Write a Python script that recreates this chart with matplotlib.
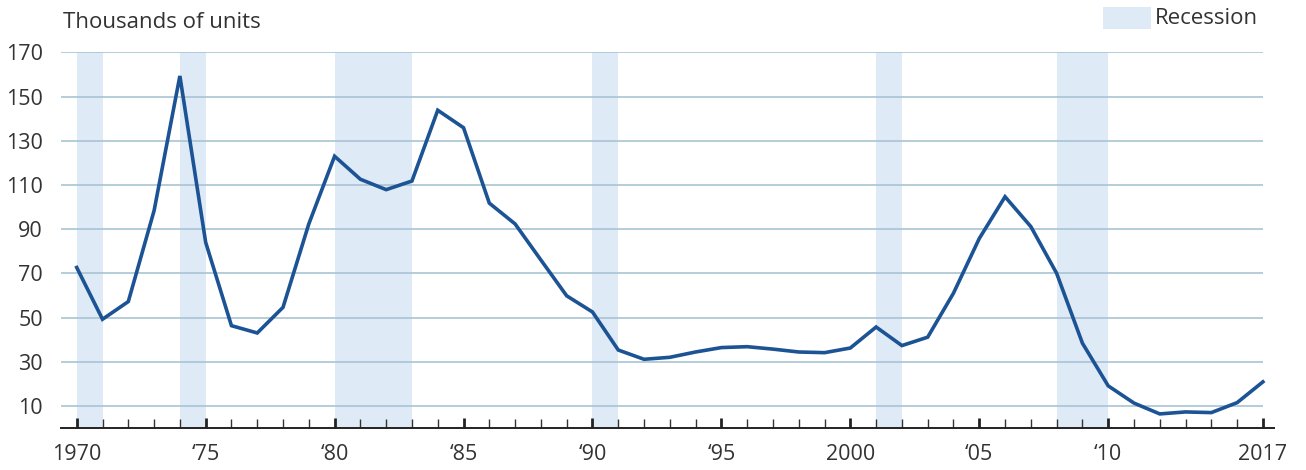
import numpy as np
import matplotlib.pyplot as plt
from matplotlib.patches import Patch

years = list(range(1970, 2017))
units = [72.7, 49.3, 57.3, 98.4, 159.3, 84.1, 46.4, 43.1, 54.7, 92.4,
         123.0, 112.6, 107.9, 111.8, 143.8, 135.9, 101.8, 92.4, 76.1, 59.9,
         52.6, 35.4, 31.2, 32.1, 34.5, 36.5, 36.9, 35.8, 34.5, 34.2,
         36.3, 45.8, 37.4, 41.2, 61.1, 85.8, 104.7, 91.2, 70.1, 38.5,
         19.2, 11.4, 6.5, 7.4, 7.1, 11.6, 21.0]
recessions = [(1970, 1971), (1974, 1975), (1980, 1983), (1990, 1991),
              (2001, 2002), (2008, 2010)]
yticks = [10, 30, 50, 70, 90, 110, 130, 150, 170]
major_years = [1970, 1975, 1980, 1985, 1990, 1995, 2000, 2005, 2010, 2016]
major_labels = ['1970', '\u201875', '\u201880', '\u201885', '\u201890',
                '\u201895', '2000', '\u201805', '\u201810', '2017']

plt.rcParams['font.family'] = ['Open Sans', 'DejaVu Sans']
text_c = '#333333'
line_c = '#1c5394'
band_c = '#deeaf6'
grid_c = '#a8c3d3'

fig = plt.figure(figsize=(13.06, 4.70), dpi=100)
ax = fig.add_axes([61/1306, 1-428.3/470, (1274-61)/1306, (428.3-52.3)/470])

x0, x1 = 1970 - 0.61, 2016 + 0.43
ax.set_xlim(x0, x1)
ax.set_ylim(0, 170)

for a, b in recessions:
    ax.axvspan(a, b, color=band_c, lw=0, zorder=1)

ax.hlines(yticks, x0, 2016, colors=grid_c, lw=1.2, zorder=2)
ax.plot(years, units, color=line_c, lw=2.6, zorder=3, solid_joinstyle='miter')

for s in ['top', 'right', 'left']:
    ax.spines[s].set_visible(False)
ax.spines['bottom'].set_color('#222222')
ax.spines['bottom'].set_linewidth(1.4)

ax.set_yticks(yticks)
ax.set_yticklabels([str(v) for v in yticks])
ax.tick_params(axis='y', length=0, pad=13, labelsize=15.5, labelcolor=text_c)

ax.set_xticks(years, minor=True)
ax.set_xticks(major_years)
ax.set_xticklabels(major_labels)
ax.tick_params(axis='x', which='minor', direction='in', length=6.5, width=1.0, color='#333333')
ax.tick_params(axis='x', which='major', direction='in', length=7, width=2.0, color='#222222',
               labelsize=15.5, labelcolor=text_c, pad=11)

fig.text(63/1306, 1-22/470, 'Thousands of units', fontsize=16, color=text_c, va='center', ha='left')

# legend swatch for recession bands
fig.patches.append(plt.Rectangle((1103/1306, 1-29/470), 48/1306, 22/470,
                                 transform=fig.transFigure, facecolor=band_c, edgecolor='none'))
fig.text(1155/1306, 1-24/470, 'Recession', fontsize=16, color=text_c, va='baseline', ha='left')

fig.savefig('out.png', dpi=100)
